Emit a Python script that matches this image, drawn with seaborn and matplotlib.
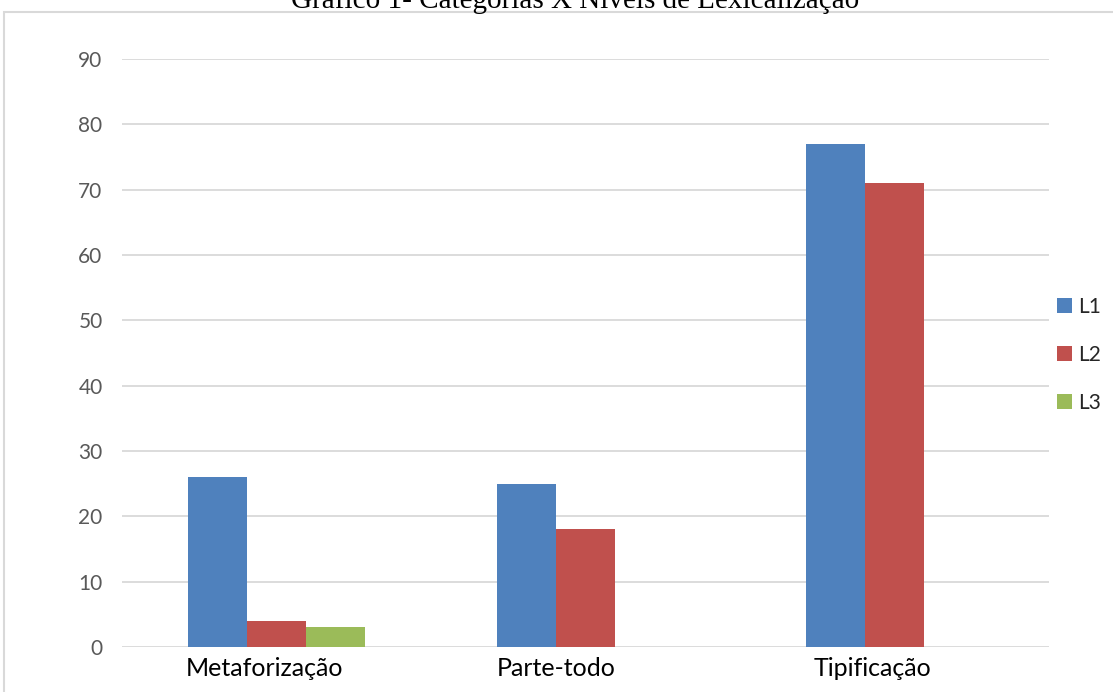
import matplotlib
matplotlib.use("Agg")
import matplotlib.pyplot as plt
import matplotlib.transforms as mtransforms
from matplotlib.patches import Rectangle, Patch
import seaborn as sns
import pandas as pd

categories = ["Metaforização", "Parte-todo", "Tipificação"]
levels = ["L1", "L2", "L3"]
l1_values = [26, 25, 77]
l2_values = [4, 18, 71]
l3_values = [3, 0, 0]
y_ticks = [0, 10, 20, 30, 40, 50, 60, 70, 80, 90]
title_text = "Gráfico 1- Categorias X Níveis de Lexicalização"

palette = ["#4F81BD", "#C0504D", "#9BBB59"]

df = pd.DataFrame({
    "categoria": categories * 3,
    "nivel": [lv for lv in levels for _ in categories],
    "valor": l1_values + l2_values + l3_values,
})

sns.set_theme(style="white")
plt.rcParams["font.family"] = ["Lato", "DejaVu Sans"]

W, H = 1113, 692
fig = plt.figure(figsize=(W / 100, H / 100), dpi=100)
ax = fig.add_axes([122 / W, 1 - 647 / H, (1049 - 122) / W, (647 - 59) / H])

sns.barplot(data=df, x="categoria", y="valor", hue="nivel", hue_order=levels,
            palette=palette, width=0.576, saturation=1, ax=ax, legend=False,
            linewidth=0)

ax.set_ylim(0, 90)
ax.set_xlim(-0.5, 2.5)
ax.set_yticks(y_ticks)
ax.set_yticklabels([str(t) for t in y_ticks], fontsize=15, color="#595959")
ax.tick_params(axis="y", pad=14, length=0)
ax.tick_params(axis="x", pad=7, length=0, labelsize=18, labelcolor="#000000")
ax.set_xlabel("")
ax.set_ylabel("")
ax.yaxis.grid(True, color="#D9D9D9", linewidth=1.3)
ax.set_axisbelow(True)
for s in ax.spines.values():
    s.set_visible(False)

# category labels sit slightly left of the group centres
label_shifts_px = [-12, -29, -22]
for lbl, dx in zip(ax.get_xticklabels(), label_shifts_px):
    lbl.set_transform(lbl.get_transform() +
                      mtransforms.ScaledTranslation(dx / 100, 0, fig.dpi_scale_trans))

# legend on the right
handles = [Patch(facecolor=c, edgecolor="none") for c in palette]
fig.legend(handles, levels, loc="center left",
           bbox_to_anchor=(1040 / W, 1 - 355 / H), frameon=False,
           fontsize=15, handlelength=0.72, handleheight=0.72,
           handletextpad=0.32, labelspacing=1.35, borderpad=0.3)

# chart frame
fig.patches.append(Rectangle((4 / W, -0.05), 1.2, 1 - 12 / H + 0.05,
                             transform=fig.transFigure, fill=False,
                             edgecolor="#D9D9D9", linewidth=1.5))

fig.text(575 / W, 1 - 8 / H, title_text, ha="center", va="baseline",
         fontsize=21, family=["Liberation Serif", "DejaVu Serif"], color="#000000")

fig.savefig("out.png", dpi=100)
